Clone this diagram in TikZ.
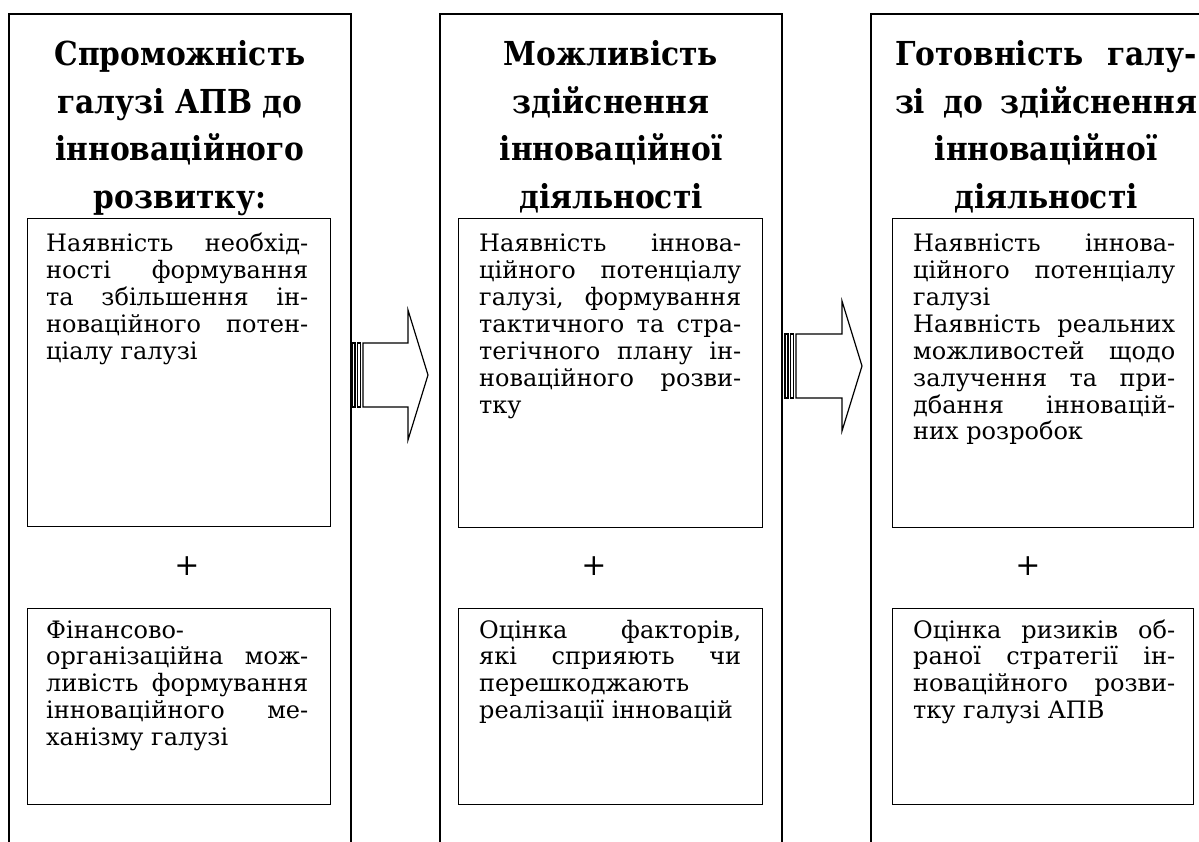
\documentclass[tikz,border=0pt]{standalone}
\usepackage{fontspec}
\setmainfont{DejaVu Serif}
\newfontfamily\headfont{DejaVu Serif}[FakeStretch=0.9]
\tikzset{
  obox/.style={line width=1.8pt, draw=black},
  ibox/.style={draw=black, line width=1.2pt, inner sep=0pt, anchor=north west},
  btext/.style={inner sep=0pt, anchor=base west, font=\fontsize{24}{26.85}\selectfont},
  htext/.style={inner sep=0pt, anchor=base, font=\headfont\fontsize{33}{47.5}\selectfont\bfseries},
  plussign/.style={inner sep=0pt, font=\fontsize{30}{30}\selectfont},
  blockarrow/.style={line width=1.2pt, draw=black, fill=white, line join=miter},
}
\newcommand\jusline[1]{\makebox[\linewidth][s]{#1}\par}
\newcommand\lastline[1]{\makebox[\linewidth][l]{#1}\par}
\newcommand\cenline[1]{\makebox[\linewidth][c]{#1}\par}
\begin{document}
\begin{tikzpicture}[x=1pt,y=-1pt]
\useasboundingbox (0,0) rectangle (1199,842);
\clip (0,0) rectangle (1199,842);
\fill[white] (0,0) rectangle (1199,842);
% outer columns
\draw[obox] (9,850) -- (9,14) -- (351,14) -- (351,850);
\draw[obox] (440,850) -- (440,14) -- (782,14) -- (782,850);
\draw[obox] (871,850) -- (871,14) -- (1215,14) -- (1215,850);
% headings
\node[htext] (Lh) at (180,66) {\parbox[t]{300pt}{\cenline{Спроможність}\cenline{галузі АПВ до}\cenline{інноваційного}\cenline{розвитку:}}};
\node[htext] (Mh) at (611,66) {\parbox[t]{300pt}{\cenline{Можливість}\cenline{здійснення}\cenline{інноваційної}\cenline{діяльності}}};
\node[htext] (Rh) at (1046,66) {\parbox[t]{302pt}{\jusline{Готовність галу-}\jusline{зі до здійснення}\cenline{інноваційної}\cenline{діяльності}}};
% inner boxes
\node[ibox, minimum width=303pt, minimum height=308pt] (L1) at (27,218) {};
\node[ibox, minimum width=303pt, minimum height=196pt] (L2) at (27,608) {};
\node[ibox, minimum width=304pt, minimum height=309pt] (M1) at (458,218) {};
\node[ibox, minimum width=304pt, minimum height=196pt] (M2) at (458,608) {};
\node[ibox, minimum width=301pt, minimum height=309pt] (R1) at (892,218) {};
\node[ibox, minimum width=301pt, minimum height=196pt] (R2) at (892,608) {};
% texts
\node[btext] (L1t) at (46,252) {\parbox[t]{262pt}{\jusline{Наявність необхід-}\jusline{ності формування}\jusline{та збільшення ін-}\jusline{новаційного потен-}\lastline{ціалу галузі}}};
\node[btext] (L2t) at (46,638) {\parbox[t]{262pt}{\lastline{Фінансово-}\jusline{організаційна мож-}\jusline{ливість формування}\jusline{інноваційного ме-}\lastline{ханізму галузі}}};
\node[btext] (M1t) at (479,252) {\parbox[t]{262pt}{\jusline{Наявність іннова-}\jusline{ційного потенціалу}\jusline{галузі, формування}\jusline{тактичного та стра-}\jusline{тегічного плану ін-}\jusline{новаційного розви-}\lastline{тку}}};
\node[btext] (M2t) at (479,638) {\parbox[t]{262pt}{\jusline{Оцінка факторів,}\jusline{які сприяють чи}\lastline{перешкоджають}\lastline{реалізації інновацій}}};
\node[btext] (R1t) at (913,252) {\parbox[t]{262pt}{\jusline{Наявність іннова-}\jusline{ційного потенціалу}\lastline{галузі}\jusline{Наявність реальних}\jusline{можливостей щодо}\jusline{залучення та при-}\jusline{дбання інновацій-}\lastline{них розробок}}};
\node[btext] (R2t) at (913,638) {\parbox[t]{262pt}{\jusline{Оцінка ризиків об-}\jusline{раної стратегії ін-}\jusline{новаційного розви-}\lastline{тку галузі АПВ}}};
% plus signs
\node[plussign] (Lp) at (187,566) {+};
\node[plussign] (Mp) at (594,566) {+};
\node[plussign] (Rp) at (1028,566) {+};
% block arrows
\draw[blockarrow] (352,343) rectangle (355,407);
\draw[blockarrow] (357.5,343) rectangle (360.5,407);
\draw[blockarrow] (363,343) -- (408,343) -- (408,310) -- (428,375) -- (408,440) -- (408,407) -- (363,407) -- cycle;
\draw[blockarrow] (785,334) rectangle (788,398);
\draw[blockarrow] (790.5,334) rectangle (793.5,398);
\draw[blockarrow] (796,334) -- (842,334) -- (842,301) -- (862,366) -- (842,431) -- (842,398) -- (796,398) -- cycle;
\end{tikzpicture}
\end{document}
